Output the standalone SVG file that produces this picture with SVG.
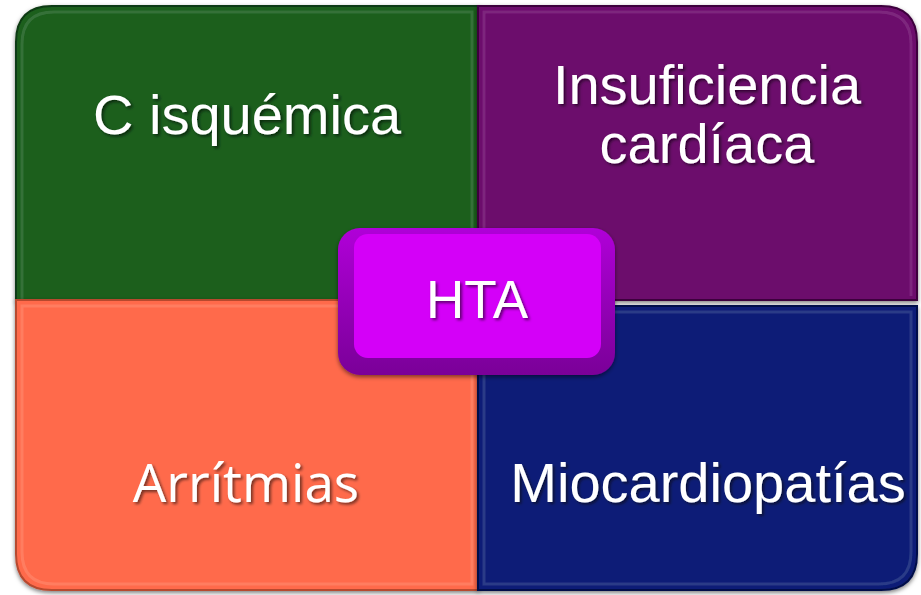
<svg xmlns="http://www.w3.org/2000/svg" width="921" height="595" viewBox="0 0 921 595">
<defs>
<style>
.lbl{font-family:"Liberation Sans",Arial,sans-serif;font-size:56px;fill:#ffffff;text-anchor:middle;filter:url(#ts)}
.lbl2{font-family:"Open Sans","Noto Sans",sans-serif;font-size:53px;fill:#ffffff;text-anchor:middle;filter:url(#ts)}
.edge{fill:none;stroke:#ffffff;stroke-opacity:0.12;stroke-width:3}
</style>
<filter id="ts" x="-10%" y="-10%" width="120%" height="130%">
<feDropShadow dx="2" dy="2" stdDeviation="1.5" flood-color="#000" flood-opacity="0.55"/>
</filter>
<filter id="bs" x="-10%" y="-10%" width="120%" height="120%">
<feDropShadow dx="0" dy="2" stdDeviation="2" flood-color="#000" flood-opacity="0.5"/>
</filter>
<linearGradient id="bev" x1="0" y1="0" x2="0" y2="1">
<stop offset="0" stop-color="#b000d8"/>
<stop offset="1" stop-color="#7a0098"/>
</linearGradient>
</defs>
<rect width="921" height="595" fill="#ffffff"/>
<g id="green" filter="url(#bs)">
<path d="M16,42 Q16,6 52,6 L478,6 L478,300 L16,300 Z" fill="#1b5e1e" stroke="#0f3a12" stroke-width="2"/>
<path class="edge" d="M22,300 L22,44 Q22,12 54,12 L472,12 L472,296"/>
<text class="lbl" x="247" y="134">C isquémica</text>
</g>
<g id="purple" filter="url(#bs)">
<path d="M478,6 L881,6 Q917,6 917,42 L917,300 L478,300 Z" fill="#6c0a6c" stroke="#3e053e" stroke-width="2"/>
<path class="edge" d="M484,296 L484,12 L879,12 Q911,12 911,44 L911,296"/>
<text class="lbl" x="707" y="104">Insuficiencia</text>
<text class="lbl" x="707" y="163">cardíaca</text>
</g>
<g id="orange" filter="url(#bs)">
<path d="M16,300 L478,300 L478,590 L52,590 Q16,590 16,554 Z" fill="#ff6b4c" stroke="#b7482f" stroke-width="2"/>
<path class="edge" d="M22,306 L472,306 L472,584 L54,584 Q22,584 22,552 Z"/>
<text class="lbl2" x="246" y="502">Arrítmias</text>
</g>
<g id="blue" filter="url(#bs)">
<path d="M478,306 L917,306 L917,554 Q917,590 881,590 L478,590 Z" fill="#0c1f77" stroke="#06104a" stroke-width="2"/>
<path class="edge" d="M484,312 L911,312 L911,552 Q911,584 879,584 L484,584 Z"/>
<text class="lbl" x="708" y="502">Miocardiopatías</text>
</g>
<g id="hta" filter="url(#bs)">
<rect x="338" y="228" width="277" height="147" rx="22" fill="url(#bev)"/>
<rect x="354" y="234" width="247" height="124" rx="14" fill="#d400f8"/>
<text class="lbl" x="477" y="318" style="font-size:53px">HTA</text>
</g>
</svg>
